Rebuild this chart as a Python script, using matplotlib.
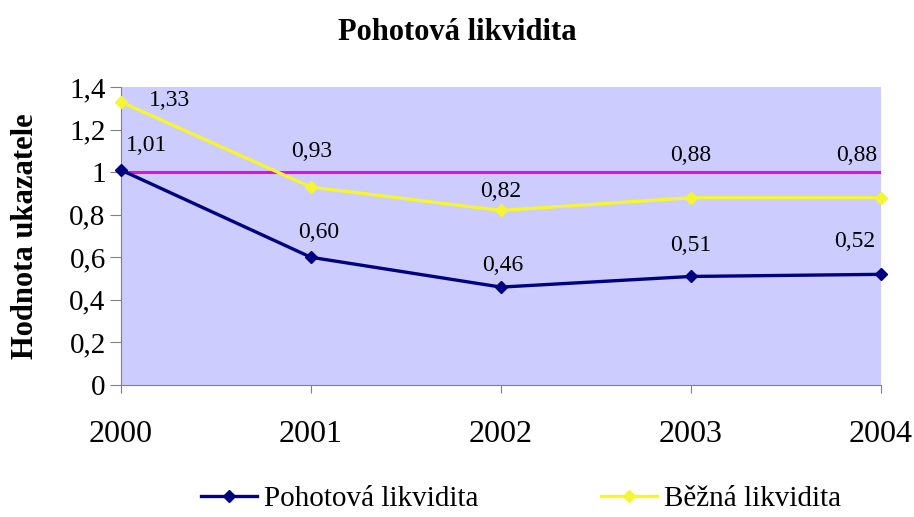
import matplotlib
matplotlib.use("Agg")
import matplotlib.pyplot as plt
from matplotlib.ticker import FuncFormatter

# data
years = ["2000", "2001", "2002", "2003", "2004"]
pohotova = [1.01, 0.60, 0.46, 0.51, 0.52]
bezna = [1.33, 0.93, 0.82, 0.88, 0.88]
norma = [1.0, 1.0, 1.0, 1.0, 1.0]

# label offsets in pixels (labels were placed by hand in the original)
bezna_off = [(49, 1), (1, 36), (0, 19), (0, 42), (-24, 42)]
pohotova_off = [(26, 25), (8, 25), (2, 22), (0, 31), (-26, 33)]

plt.rcParams['font.family'] = ['Liberation Serif', 'DejaVu Serif']

fig = plt.figure(figsize=(9.14, 5.17), dpi=100)
ax = fig.add_axes([0.1324, 0.2553, 0.8315, 0.5764])
ax.set_facecolor("#CCCCFF")

x = list(range(len(years)))
ax.plot(x, norma, color="#E010E0", lw=2.2, zorder=2)
ax.plot(x, bezna, color="#F5F530", lw=2.4, marker="D", ms=6.5,
        label="Běžná likvidita", clip_on=False, zorder=3)
ax.plot(x, pohotova, color="#000080", lw=2.4, marker="D", ms=6.5,
        label="Pohotová likvidita", clip_on=False, zorder=4)

def fmt(v):
    return f"{v:.2f}".replace(".", ",")

px = 0.72  # pixels -> points at 100 dpi
for vals, offs in [(bezna, bezna_off), (pohotova, pohotova_off)]:
    for i, (v, (dx, dy)) in enumerate(zip(vals, offs)):
        ax.annotate(fmt(v), (i, v), xytext=(dx * px, dy * px), textcoords="offset points",
                    ha="center", va="center", fontsize=17)

ax.set_xlim(0, len(years) - 1)
ax.set_ylim(0, 1.4)
ax.set_xticks(x)
ax.set_xticklabels(years, fontsize=23)
ax.set_yticks([0, 0.2, 0.4, 0.6, 0.8, 1.0, 1.2, 1.4])
ax.yaxis.set_major_formatter(FuncFormatter(
    lambda v, _: "1" if abs(v - 1) < 1e-9 else ("0" if v == 0 else f"{v:.1f}".replace(".", ","))))
ax.tick_params(axis="y", labelsize=21, length=8, color="#808080", pad=3)
ax.tick_params(axis="x", length=6, color="#808080", pad=19)

for s in ["top", "right"]:
    ax.spines[s].set_visible(False)
for s in ["left", "bottom"]:
    ax.spines[s].set_color("#808080")

ax.set_ylabel("Hodnota ukazatele", fontsize=22, fontweight="bold")
ax.yaxis.set_label_coords(-0.106, 0.5)
fig.suptitle("Pohotová likvidita", fontsize=22, fontweight="bold", y=0.965)

handles, labels = ax.get_legend_handles_labels()
fig.legend(handles[::-1], labels[::-1], loc="center", bbox_to_anchor=(0.570, 0.035),
           ncol=2, frameon=False, fontsize=21, handlelength=1.93,
           columnspacing=4.2, handletextpad=0.24)

fig.savefig("out.png", dpi=100)
